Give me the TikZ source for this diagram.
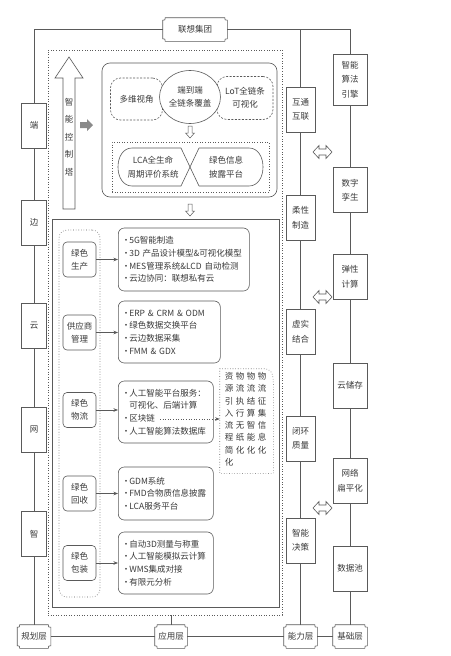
\documentclass[tikz,border=0pt]{standalone}
\usepackage{fontspec}
\setmainfont{Noto Sans CJK SC}
\usetikzlibrary{arrows.meta,calc,shapes.geometric}
\definecolor{lc}{HTML}{5A5A5A}
\definecolor{tc}{HTML}{3A3A3A}
\definecolor{ga}{HTML}{8A8A8A}
\newcommand{\scrollframe}[1]{%
 \draw[lc] let \p1=(#1.north west), \p2=(#1.south east) in
 (\x1+2.5pt,\y1) -- (\x2-2.5pt,\y1) .. controls (\x2-2.5pt,\y1-2.5pt) .. (\x2,\y1-2.5pt)
 -- (\x2,\y2+2.5pt) .. controls (\x2-2.5pt,\y2+2.5pt) .. (\x2-2.5pt,\y2)
 -- (\x1+2.5pt,\y2) .. controls (\x1+2.5pt,\y2+2.5pt) .. (\x1,\y2+2.5pt)
 -- (\x1,\y1-2.5pt) .. controls (\x1+2.5pt,\y1-2.5pt) .. (\x1+2.5pt,\y1) -- cycle;}
\newcommand{\bl}{\makebox[7.5pt][l]{·}}
\newcommand{\ind}{\hspace*{7.5pt}}
\begin{document}
\begin{tikzpicture}[x=1pt,y=-1pt,line width=0.6pt,
 every node/.style={text=tc,font=\fontsize{8.5}{13}\selectfont},
 colbox/.style={draw=lc,fill=white,minimum width=25pt,minimum height=45pt,inner sep=1pt,align=center,font=\fontsize{8.5}{14.5}\selectfont},
 midbox/.style={colbox,minimum width=29pt},
 rbox/.style={colbox,minimum width=34pt},
 layerbox/.style={minimum height=23pt,inner sep=1pt},
 catbox/.style={draw=lc,rounded corners=4pt,minimum width=33pt,minimum height=35pt,inner sep=1pt,align=center},
 itembox/.style={draw=lc,rounded corners=6pt,anchor=west,align=left,inner xsep=3.5pt,inner ysep=2pt,font=\fontsize{8.5}{12.7}\selectfont},
 arr/.style={draw=lc,-{Stealth[length=4.5pt,width=3.5pt]}},
 dotbox/.style={draw=lc,dotted},
 vtext/.style={align=center,inner sep=0pt,font=\fontsize{8.5}{12.3}\selectfont,anchor=north},
 dsh/.style={draw=lc,dash pattern=on 2pt off 1.5pt,rounded corners=10pt,align=center},
]
\useasboundingbox (0,0) rectangle (450,656);
\fill[white] (0,0) rectangle (450,656);

% big frames
\node[dotbox,minimum width=234pt,minimum height=565pt] (outer) at (165,332.5) {};
\node[draw=lc,minimum width=175pt,minimum height=134pt,rounded corners=8pt] (topbox) at (189.5,130) {};
\node[draw=lc,minimum width=227pt,minimum height=388pt] (lowbox) at (165.5,413) {};
\node[dotbox,rounded corners=8pt,minimum width=41pt,minimum height=367pt] (catcol) at (79.5,413.5) {};
\node[dotbox,minimum width=157pt,minimum height=50pt] (lcabox) at (190.5,167) {};

% layer labels
\node[layerbox,minimum width=64pt] (jt) at (195,29.5) {联想集团};
\node[layerbox,minimum width=33pt] (gh) at (34,636.5) {规划层};
\node[layerbox,minimum width=32pt] (yy) at (171,636.5) {应用层};
\node[layerbox,minimum width=33pt] (nl) at (300.5,636.5) {能力层};
\node[layerbox,minimum width=34pt] (jc) at (350,636.5) {基础层};

% left column
\node[colbox] (d1) at (34,125.5) {端};
\node[colbox] (d2) at (34,222.5) {边};
\node[colbox] (d3) at (34,325.5) {云};
\node[colbox] (d4) at (34,429.5) {网};
\node[colbox] (d5) at (34,534) {智};

% middle column
\node[midbox] (m1) at (300.5,109.5) {互通\\互联};
\node[midbox] (m2) at (300.5,218) {柔性\\制造};
\node[midbox] (m3) at (300.5,331.5) {虚实\\结合};
\node[midbox] (m4) at (300.5,438.5) {闭环\\质量};
\node[midbox] (m5) at (300.5,540.5) {智能\\决策};

% right column
\node[rbox,minimum height=51pt] (r1) at (350,79.5) {智能\\算法\\引擎};
\node[rbox] (r2) at (350,190) {数字\\孪生};
\node[rbox] (r3) at (350,277) {弹性\\计算};
\node[rbox] (r4) at (350,385.5) {云储存};
\node[rbox] (r5) at (350,480.5) {网络\\扁平化};
\node[rbox] (r6) at (350,568.5) {数据池};

% frame connectors
\draw[lc] (d1.north) |- (jt.west);
\draw[lc] (jt.east) -| (r1.north);
\draw[lc] (m1.north) -- (m1.north |- jt.east);
\draw[lc] (d1) -- (d2) -- (d3) -- (d4) -- (d5) -- (gh);
\draw[lc] (m1) -- (m2) -- (m3) -- (m4) -- (m5) -- (nl);
\draw[lc] (r1) -- (r2) -- (r3) -- (r4) -- (r5) -- (r6) -- (jc);
\draw[lc] (gh) -- (yy) -- (nl) -- (jc);
\draw[lc] (yy.north) -- (yy.north |- outer.south);
\scrollframe{jt}\scrollframe{gh}\scrollframe{yy}\scrollframe{nl}\scrollframe{jc}

% double arrows
\foreach \yy in {152,297,508}{
 \draw[lc,shift={(322.5,\yy)}] (-9.5,0) -- (-3.5,-6.5) -- (-3.5,-3) -- (3.5,-3) -- (3.5,-6.5) -- (9.5,0) -- (3.5,6.5) -- (3.5,3) -- (-3.5,3) -- (-3.5,6.5) -- cycle;}

% control tower arrow
\draw[lc] (55,78) -- (69,57) -- (83,78) -- (75,78) -- (75,209) -- (63,209) -- (63,78) -- cycle;
\node[align=center,inner sep=0pt,font=\fontsize{8.5}{17.5}\selectfont] (zk) at (69,137) {智\\能\\控\\制\\塔};
\fill[ga] (80,122) -- (87,122) -- (87,119) -- (93,125) -- (87,131) -- (87,128) -- (80,128) -- cycle;

% top row
\node[dsh,minimum width=52pt,minimum height=42pt] (dw) at (136.5,99) {多维视角};
\node[dsh,minimum width=56pt,minimum height=43pt] (lot) at (245,98) {LoT全链条\\可视化};
\node[ellipse,draw=lc,fill=white,minimum width=61pt,minimum height=53pt,inner sep=0pt,align=center] (ee) at (190,97) {端到端\\全链条覆盖};

% hollow down arrows
\foreach \yy in {126,204}{
 \draw[lc,line width=0.5pt,shift={(190,\yy)}] (-2,0) -- (2,0) -- (2,7) -- (4.5,7) -- (0,12) -- (-4.5,7) -- (-2,7) -- cycle;}

% LCA shapes
\draw[lc] (181,148) -- (132,148) .. controls (123,148) and (118,157) .. (118,167) .. controls (118,177) and (123,186) .. (132,186) -- (181,186);
\draw[lc] (199,148) -- (249,148) .. controls (258,148) and (263,157) .. (263,167) .. controls (263,177) and (258,186) .. (249,186) -- (199,186);
\draw[lc] (181,148) -- (199,186);
\draw[lc] (199,148) -- (181,186);
\node[align=center,font=\fontsize{8.5}{14}\selectfont] (lca) at (153,167) {LCA全生命\\周期评价系统};
\node[align=center,font=\fontsize{8.5}{14}\selectfont] (pl) at (226,167) {绿色信息\\披露平台};

% categories
\node[catbox] (c1) at (79.5,259.5) {绿色\\生产};
\node[catbox] (c2) at (79.5,332.5) {供应商\\管理};
\node[catbox] (c3) at (79.5,410) {绿色\\物流};
\node[catbox] (c4) at (79.5,493.5) {绿色\\回收};
\node[catbox] (c5) at (79.5,563) {绿色\\包装};

% items
\node[itembox,text width=124pt,minimum height=63pt] (i1) at (118,259.5) {\bl 5G智能制造\\\bl 3D 产品设计模型\&可视化模型\\\bl MES管理系统\&LCD 自动检测\\\bl 云边协同：联想私有云};
\node[itembox,text width=95pt,minimum height=62pt] (i2) at (118,332) {\bl ERP \& CRM \& ODM\\\bl 绿色数据交换平台\\\bl 云边数据采集\\\bl FMM \& GDX};
\node[itembox,text width=88pt,minimum height=62pt] (i3) at (118,412) {\bl 人工智能平台服务：\\\ind 可视化、后端计算\\\bl 区块链\\\bl 人工智能算法数据库};
\node[itembox,text width=88pt,minimum height=53pt] (i4) at (118,493.5) {\bl GDM系统\\\bl FMD合物质信息披露\\\bl LCA服务平台};
\node[itembox,text width=88pt,minimum height=62pt] (i5) at (118,563) {\bl 自动3D测量与称重\\\bl 人工智能模拟云计算\\\bl WMS集成对接\\\bl 有限元分析};

\draw[arr] (c1.east) -- (c1.east -| i1.west);
\draw[arr] (c2.east) -- (c2.east -| i2.west);
\draw[arr] (c3.east) -- (c3.east -| i3.west);
\draw[arr] (c4.east) -- (c4.east -| i4.west);
\draw[arr] (c5.east) -- (c5.east -| i5.west);

% vertical text box
\node[minimum width=53pt,minimum height=104pt,inner sep=0pt] (vt) at (246.5,421) {};
\draw[lc,dotted] (vt.north west) -- ($(vt.north east)+(-9pt,0)$) .. controls ($(vt.north east)+(-3pt,0)$) and ($(vt.north east)+(0,-4pt)$) .. ($(vt.north east)+(0,-14pt)$) -- (vt.south east) -- (vt.south west) -- cycle;
\node[vtext] (v1) at (262,372) {物\\流\\征\\集\\信\\息\\化};
\node[vtext] (v2) at (251,372) {物\\流\\结\\算\\智\\能\\化};
\node[vtext] (v3) at (240,372) {物\\流\\执\\行\\无\\纸\\化};
\node[vtext] (v4) at (229,372) {资\\源\\引\\入\\流\\程\\简\\化};
\coordinate (qk) at (160,419);
\draw[arr,dotted] (qk) -- (qk -| vt.west);
\end{tikzpicture}
\end{document}
